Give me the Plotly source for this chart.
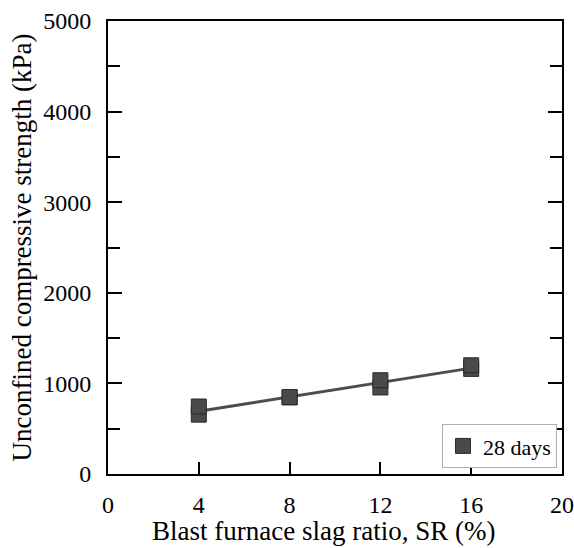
import numpy as np
import plotly.graph_objects as go

# Blast furnace slag ratio (%) and 28-day UCS results (kPa), two specimens per ratio
sr_pct = [4, 8, 12, 16]
ucs_low = [655, 845, 955, 1160]
ucs_high = [745, 850, 1035, 1200]

x_ticks = [0, 4, 8, 12, 16, 20]
y_ticks = [0, 1000, 2000, 3000, 4000, 5000]

# linear trend through all specimens
x_all = np.array(sr_pct + sr_pct, dtype=float)
y_all = np.array(ucs_low + ucs_high, dtype=float)
slope, intercept = np.polyfit(x_all, y_all, 1)
x_fit = np.array([min(sr_pct), max(sr_pct)], dtype=float)
y_fit = slope * x_fit + intercept

serif = "Liberation Serif, Times New Roman, serif"

fig = go.Figure()
fig.add_trace(go.Scatter(
    x=x_fit, y=y_fit, mode="lines",
    line=dict(color="#4d4d4d", width=3),
    showlegend=False, hoverinfo="skip",
))
fig.add_trace(go.Scatter(
    x=x_all, y=y_all, mode="markers", name="28 days",
    marker=dict(symbol="square", size=15, color="#4a4a4a",
                line=dict(color="#2b2b2b", width=1)),
))

# x-axis title placed as an annotation so it sits slightly left of centre
fig.add_annotation(
    text="Blast furnace slag ratio, SR (%)",
    xref="paper", yref="paper", x=0.474, y=-0.126,
    xanchor="center", yanchor="middle", showarrow=False,
    font=dict(family=serif, size=27, color="black"),
)

fig.update_layout(
    width=574, height=548,
    margin=dict(l=108, r=12, t=21, b=74),
    paper_bgcolor="white", plot_bgcolor="white",
    font=dict(family=serif, size=24, color="black"),
    legend=dict(
        x=0.989, y=0.013, xanchor="right", yanchor="bottom",
        bgcolor="white", bordercolor="#b0b0b0", borderwidth=1,
        font=dict(family=serif, size=22, color="black"),
        tracegroupgap=0,
    ),
    xaxis=dict(
        range=[0, 20], tickvals=x_ticks, ticks="inside", ticklen=12,
        tickwidth=2, tickcolor="black", automargin=False,
        showline=True, linecolor="black", linewidth=2, mirror=True,
        showgrid=False, zeroline=False, ticklabelstandoff=8,
        tickfont=dict(family=serif, size=24),
    ),
    yaxis=dict(
        range=[0, 5000], tickvals=y_ticks, ticks="inside", ticklen=14,
        tickwidth=2, tickcolor="black", automargin=False,
        showline=True, linecolor="black", linewidth=2, mirror="ticks",
        showgrid=False, zeroline=False, ticklabelstandoff=10,
        minor=dict(dtick=500, ticks="inside", ticklen=12, tickwidth=2,
                   tickcolor="black", showgrid=False),
        title=dict(text="Unconfined compressive strength (kPa)",
                   font=dict(family=serif, size=27), standoff=4),
        tickfont=dict(family=serif, size=24),
    ),
)

fig.write_html("out.html")
